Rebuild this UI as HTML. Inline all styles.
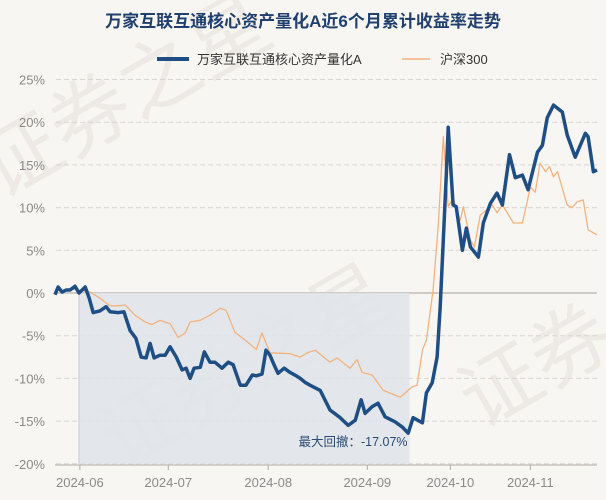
<!DOCTYPE html>
<html><head><meta charset="utf-8"><style>
html,body{margin:0;padding:0;background:#f8f6f2;}
svg{display:block;font-family:"Liberation Sans","Noto Sans CJK SC",sans-serif;}
</style></head><body>
<svg id="chart" width="606" height="500" viewBox="0 0 606 500">
<rect x="0" y="0" width="606" height="500" fill="#f8f6f2"/>
<g fill="#e9e6e1" font-size="80" opacity="0.7">
<text x="0" y="200" transform="rotate(-30 0 200)">证券之星</text>
<text x="120" y="470" transform="rotate(-30 120 470)">证券之星</text>
<text x="480" y="430" transform="rotate(-30 480 430)">证券</text>
</g>
<text x="303" y="27" text-anchor="middle" font-size="17" font-weight="bold" fill="#1f3f6e">万家互联互通核心资产量化A近6个月累计收益率走势</text>
<g>
<g>
<line x1="157" y1="59" x2="189" y2="59" stroke="#1f4e85" stroke-width="4"/>
<text x="197" y="64" font-size="13" fill="#333">万家互联互通核心资产量化A</text>
</g>
<g>
<line x1="402" y1="59" x2="430" y2="59" stroke="#f3b27e" stroke-width="1.5"/>
<text x="440" y="64" font-size="13" fill="#333">沪深300</text>
</g>
</g>
<g id="grid"></g>
<g id="yaxis"></g>
<g id="xaxis"></g>
<g id="series"></g>
</svg>
<script>
const yTicks=[25,20,15,10,5,0,-5,-10,-15,-20];
const monthLabels=["2024-06","2024-07","2024-08","2024-09","2024-10","2024-11"];
const monthDays=[5.6,25.5,48,70.3,89,107];
const fundDays=[0,0.7,1.6,2.5,3.4,4.5,5.4,6.8,7.7,8.6,10.1,11.5,12.4,14.2,15.5,16.9,18.2,19.4,20.5,21.4,22.3,23.6,24.8,25.9,27.3,28.6,29.5,30.4,31.3,32.7,33.6,34.9,36,37.6,39,40.1,41.7,43,44.4,45.3,46.6,47.5,48.4,49.3,50.2,51.6,52.9,54.3,55.2,56.4,57.4,59.7,61.9,64.2,66,67.6,68.9,69.8,71.4,72.7,74.3,76.6,78.2,79.5,80.6,82.7,83.6,84.9,86,86.7,87.4,88.1,88.5,89.6,90.3,91.7,92.6,93.5,95.3,96.4,98,99.5,100.7,102.3,103.6,105.2,106.5,108.6,109.7,110.8,112.2,114.2,115.3,117.1,119.4,120,121.2,122];
const fundValues=[-0.2,0.7,0.1,0.35,0.35,0.8,0,0.7,-0.6,-2.3,-2.1,-1.6,-2.2,-2.3,-2.2,-4.4,-5.3,-7.5,-7.6,-5.9,-7.6,-7.3,-7.3,-6.3,-7.5,-9.0,-8.8,-10.0,-8.8,-8.7,-6.9,-8.1,-8.1,-8.8,-8.1,-8.4,-10.8,-10.8,-9.6,-9.7,-9.5,-6.7,-7.3,-8.4,-9.4,-8.8,-9.3,-9.7,-10.0,-10.5,-10.8,-11.4,-13.7,-14.6,-15.5,-14.9,-12.5,-14.1,-13.3,-12.9,-14.5,-15.1,-15.7,-16.4,-14.6,-15.2,-11.7,-10.5,-7.5,-1.6,6.2,14.1,19.4,10.3,10.1,5.0,7.6,5.4,4.2,8.2,10.5,11.7,10.3,16.2,13.5,13.8,12.1,16.5,17.3,20.5,22.0,21.2,18.5,15.9,18.7,18.3,14.2,14.4];
const csiDays=[0,0.7,1.6,3.4,5.2,7.9,10.1,12.4,14.2,15.8,18,20.3,21.8,23.6,25.9,27.7,29.3,30.4,32.7,34.9,37.2,38.5,40.5,42.8,45.3,46.6,48.4,52.9,55.2,56.8,58.6,61.9,63.5,66.4,68,69.1,71.4,73.9,77.7,80.4,81.5,82.7,83.6,85.1,86.3,87.4,88.5,89.6,91.2,91.9,93.5,94.4,95.7,98.4,99.5,100.7,103.2,105.2,107,108.1,109.2,110.4,111.3,112.2,113.1,115.3,116.4,117.6,118.9,120,122];
const csiValues=[0.1,0.8,0.2,0.5,0.35,0.1,-0.6,-1.5,-1.5,-1.4,-2.6,-3.4,-3.7,-3.2,-3.6,-5.2,-4.7,-3.4,-3.2,-2.6,-1.8,-2.0,-4.6,-5.5,-6.6,-4.7,-7.0,-7.1,-7.5,-7.0,-6.7,-8.1,-7.6,-8.8,-7.8,-9.3,-9.6,-11.4,-12.2,-11.0,-10.8,-6.7,-5.5,0.35,8.2,18.3,10.1,11.1,8.5,10.1,6.2,5.4,9.1,10.3,9.4,10.3,8.2,8.2,12.4,11.8,15.2,14.2,14.8,13.6,14.2,10.3,10.0,10.7,10.9,7.4,6.8];
const drawdownStart=5.4, drawdownEnd=79.8, drawdownLabel="最大回撤：-17.07%";

const NS="http://www.w3.org/2000/svg";
const X0=55,X1=597,Y0=293,PPU=8.54;
const xs=d=>X0+d*(X1-X0)/122;
const ys=v=>Y0-v*PPU;
function el(tag,attrs,parent){const e=document.createElementNS(NS,tag);for(const k in attrs)e.setAttribute(k,attrs[k]);parent.appendChild(e);return e;}
const grid=document.getElementById('grid'),yaxis=document.getElementById('yaxis'),xaxis=document.getElementById('xaxis'),series=document.getElementById('series');
yTicks.forEach(t=>{
  const l=el('line',{x1:56,x2:597,y1:ys(t),y2:ys(t),stroke:t===0?'#cfcbc6':'#d9d6d1','stroke-width':t===0?2:1,'stroke-dasharray':t===0?'':'5,3'},grid);
  
  
  const tx=el('text',{x:45,y:ys(t)+5,'text-anchor':'end','font-size':13,fill:'#8a8a8a'},yaxis);
  tx.textContent=t+'%';
  
  
});
// drawdown shading
const sh=el('rect',{x:xs(drawdownStart),y:Y0,width:xs(drawdownEnd)-xs(drawdownStart),height:ys(-20)-Y0,fill:'#dfe4ea',opacity:0.85},grid);


const sl=el('line',{x1:xs(drawdownStart),x2:xs(drawdownStart),y1:Y0,y2:ys(-20),stroke:'#c5ccd6','stroke-width':1},grid);


const dl=el('text',{x:xs(drawdownEnd)-2,y:446,'text-anchor':'end','font-size':12.5,fill:'#2a4a75'},series);
dl.textContent=drawdownLabel;


// x axis
const ax=el('line',{x1:55,x2:597,y1:465,y2:465,stroke:'#b0aca6','stroke-width':1},xaxis);


monthLabels.forEach((m,i)=>{
  const tk=el('line',{x1:xs(monthDays[i]),x2:xs(monthDays[i]),y1:465,y2:470,stroke:'#b0aca6'},xaxis);
  
  
  const t=el('text',{x:xs(monthDays[i]),y:487,'text-anchor':'middle','font-size':13,fill:'#8a8a8a'},xaxis);
  t.textContent=m;
  
  
});
function path(days,vals){return days.map((d,i)=>(i?'L':'M')+xs(d).toFixed(1)+','+ys(vals[i]).toFixed(1)).join(' ');}
const cp=el('path',{d:path(csiDays,csiValues),fill:'none',stroke:'#f3b27e','stroke-width':1.3,'stroke-linejoin':'round'},series);


const fp=el('path',{d:path(fundDays,fundValues),fill:'none',stroke:'#1f4e85','stroke-width':3.5,'stroke-linejoin':'round'},series);


</script>
</body></html>
